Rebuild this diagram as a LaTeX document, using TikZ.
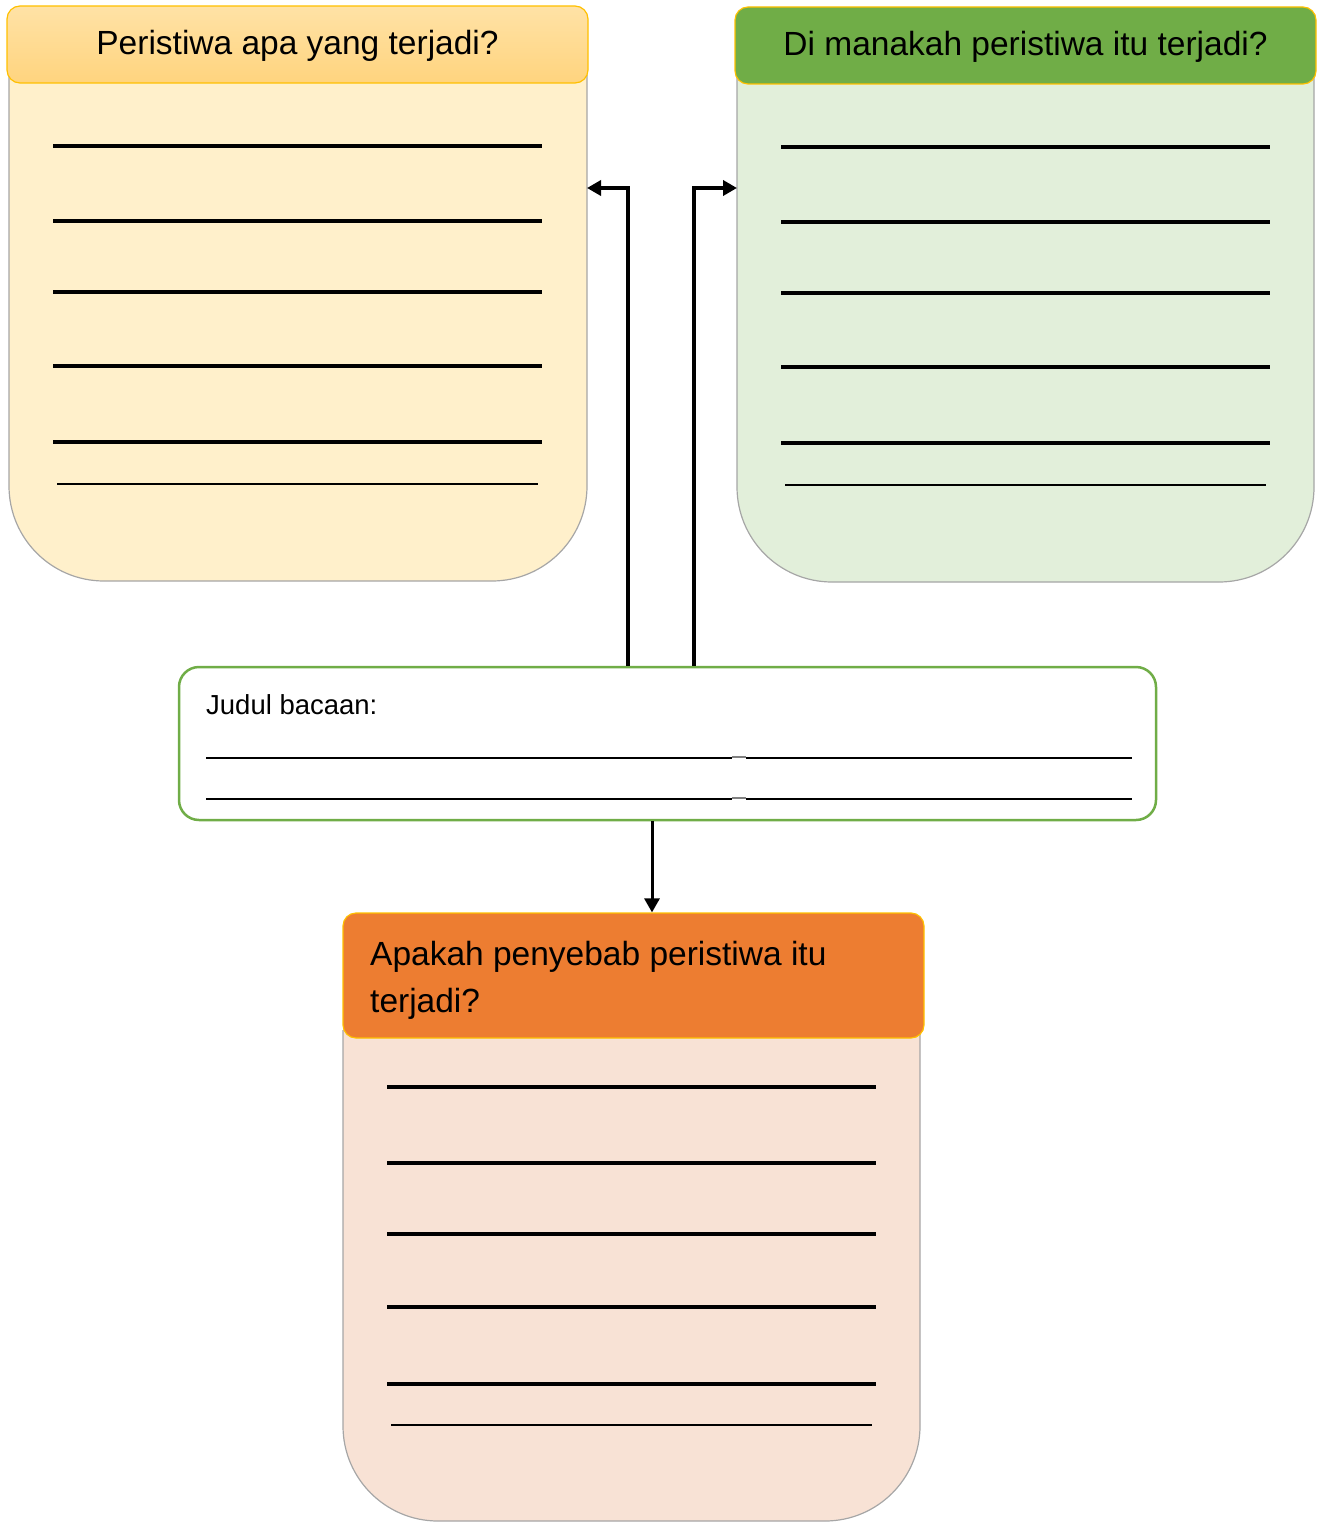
\documentclass[tikz,border=0pt]{standalone}
\usepackage{fontspec}
\setmainfont{Liberation Sans}
\usetikzlibrary{arrows.meta}

\definecolor{goldline}{HTML}{FFC000}
\definecolor{cardgray}{HTML}{A6A6A6}
\definecolor{apatop}{HTML}{FFE2A6}
\definecolor{apabot}{HTML}{FFD47E}
\definecolor{apabody}{HTML}{FFF0CB}
\definecolor{manahead}{HTML}{70AD47}
\definecolor{manabody}{HTML}{E2EFDA}
\definecolor{sebabhead}{HTML}{ED7D31}
\definecolor{sebabbody}{HTML}{F8E2D5}

\begin{document}
\begin{tikzpicture}[x=1pt,y=-1pt,
head/.style={draw=goldline,line width=1.2pt,rounded corners=13pt,minimum width=581pt,minimum height=77pt,inner sep=0pt,text height=25pt,text depth=4pt,font=\fontsize{33.5}{47}\selectfont},
card/.style={draw=cardgray,line width=1.2pt,rounded corners=95pt},
wline/.style={line width=3.5pt},
tline/.style={line width=2.8pt},
jline/.style={line width=2.2pt},
arr/.style={line width=3.5pt,-{Triangle[length=14pt,width=15pt]}}]

\useasboundingbox (0,0) rectangle (1318,1522);

% left card
\filldraw[card,fill=apabody] (9,75) -- (9,581) -- (587,581) -- (587,75);

\node[head,top color=apatop,bottom color=apabot] (apa) at (297.5,44.5) {Peristiwa apa yang terjadi?};

\draw[wline] (53,146) -- (542,146);
\draw[wline] (53,221) -- (542,221);
\draw[wline] (53,292) -- (542,292);
\draw[wline] (53,366) -- (542,366);
\draw[wline] (53,442) -- (542,442);
\draw[tline] (57,484) -- (538,484);

% right card
\filldraw[card,fill=manabody] (737,76) -- (737,582) -- (1314,582) -- (1314,76);

\node[head,fill=manahead] (mana) at (1025.5,45.5) {Di manakah peristiwa itu terjadi?};

\draw[wline] (781,147) -- (1270,147);
\draw[wline] (781,222) -- (1270,222);
\draw[wline] (781,293) -- (1270,293);
\draw[wline] (781,367) -- (1270,367);
\draw[wline] (781,443) -- (1270,443);
\draw[tline] (785,485) -- (1266,485);

\coordinate (apaside) at (587,188);
\coordinate (manaside) at (737,188);

% title box
\node[draw=manahead,line width=2.5pt,rounded corners=20pt,fill=white,minimum width=977pt,minimum height=153pt] (judul) at (667.5,743.5) {};

\node[anchor=base west,inner sep=0pt,font=\fontsize{27.5}{32}\selectfont] (judulteks) at (206,714) {Judul bacaan:};

\draw[jline] (206,758) -- (732,758);
\draw[jline,gray] (732,757) -- (746,757);
\draw[jline] (746,758) -- (1132,758);
\draw[jline] (206,799) -- (732,799);
\draw[jline,gray] (732,798) -- (746,798);
\draw[jline] (746,799) -- (1132,799);

\draw[arr] (judul.north -| 628,0) |- (apaside);
\draw[arr] (judul.north -| 694,0) |- (manaside);

% bottom card
\filldraw[card,fill=sebabbody] (343,1030) -- (343,1521) -- (920,1521) -- (920,1030);

\node[head,fill=sebabhead,minimum height=125pt,text height=,text depth=] (sebab) at (633.5,975.5) {};

\node[anchor=north west,inner sep=0pt,align=left,font=\fontsize{33.5}{47}\selectfont] (sebabteks) at (370,941) {Apakah penyebab peristiwa itu\\terjadi?};

\draw[arr,line width=3pt] (judul.south -| 652,0) -- (sebab.north -| 652,0);

\draw[wline] (387,1087) -- (876,1087);
\draw[wline] (387,1163) -- (876,1163);
\draw[wline] (387,1234) -- (876,1234);
\draw[wline] (387,1307) -- (876,1307);
\draw[wline] (387,1384) -- (876,1384);
\draw[tline] (391,1425) -- (872,1425);
\end{tikzpicture}
\end{document}
